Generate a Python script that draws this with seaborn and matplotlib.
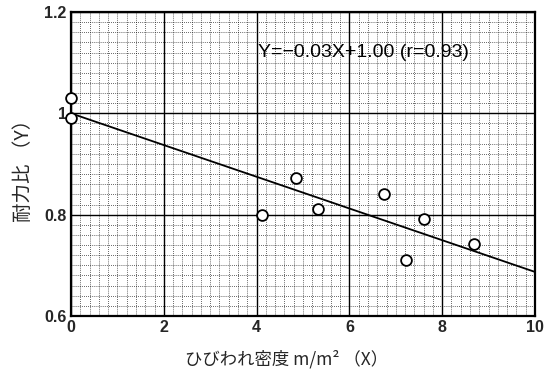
import matplotlib
matplotlib.use("Agg")
import matplotlib.pyplot as plt
from matplotlib.ticker import MultipleLocator, FixedLocator
import seaborn as sns
import pandas as pd

# data
crack_density = [0.0, 0.0, 4.12, 4.85, 5.33, 6.75, 7.23, 7.60, 8.69]
strength_ratio = [1.031, 0.991, 0.800, 0.873, 0.811, 0.841, 0.711, 0.791, 0.742]
fit_x = [0.0, 10.0]
fit_y = [1.000, 0.687]
x_ticks = [0, 2, 4, 6, 8, 10]
x_tick_labels = ["0", "2", "4", "6", "8", "10"]
y_ticks = [0.6, 0.8, 1.0, 1.2]
y_tick_labels = ["0.6", "0.8", "1", "1.2"]
equation_text = "Y=−0.03X+1.00 (r=0.93)"
x_label = "ひびわれ密度 m/m² （X）"
y_label = "耐力比 （Y）"

sns.set_style("white")
plt.rcParams['font.family'] = ['Liberation Sans', 'Noto Sans CJK JP', 'DejaVu Sans']

fig = plt.figure(figsize=(5.53, 3.75), dpi=100)
ax = fig.add_axes([71/553, 1-316/375, 464/553, 304/375])

pts = pd.DataFrame({"x": crack_density, "y": strength_ratio})
fit = pd.DataFrame({"x": fit_x, "y": fit_y})

ax.set_xlim(0, 10)
ax.set_ylim(0.6, 1.2)

ax.xaxis.set_major_locator(FixedLocator(x_ticks))
ax.yaxis.set_major_locator(FixedLocator(y_ticks))
ax.xaxis.set_minor_locator(MultipleLocator(0.2))
ax.yaxis.set_minor_locator(MultipleLocator(0.02))
ax.set_xticklabels(x_tick_labels, fontweight='bold', fontsize=11.5)
ax.set_yticklabels(y_tick_labels, fontweight='bold', fontsize=11.5)
ax.tick_params(which='both', length=0)
ax.tick_params(axis='x', pad=3)
ax.tick_params(axis='y', pad=3)

ax.grid(which='major', color='black', linewidth=1.0, linestyle='-')
ax.grid(which='minor', color='black', linewidth=0.6, linestyle=(0, (1, 1.5)), alpha=0.8)
ax.set_axisbelow(True)

for s in ax.spines.values():
    s.set_visible(True)
    s.set_color('black')
    s.set_linewidth(1.6)

sns.lineplot(data=fit, x="x", y="y", ax=ax, color='black', linewidth=1.3, zorder=3)
sns.scatterplot(data=pts, x="x", y="y", ax=ax, marker='o', s=60,
                facecolor='white', edgecolor='black', linewidth=1.3,
                zorder=4, clip_on=False)

ax.text(4.03, 1.12, equation_text, ha='left', va='center', fontsize=14,
        color='black', zorder=5)

ax.set_xlabel(x_label, fontsize=12.5, family=['Noto Sans CJK JP', 'DejaVu Sans'])
ax.set_ylabel(y_label, fontsize=14, family=['Noto Sans CJK JP', 'DejaVu Sans'])
ax.xaxis.set_label_coords((287-71)/464, (316-359)/304)
ax.xaxis.label.set_verticalalignment('center')
ax.yaxis.set_label_coords((23-71)/464, (316-166)/304)
ax.yaxis.label.set_verticalalignment('center')

fig.savefig("out.png", dpi=100)
